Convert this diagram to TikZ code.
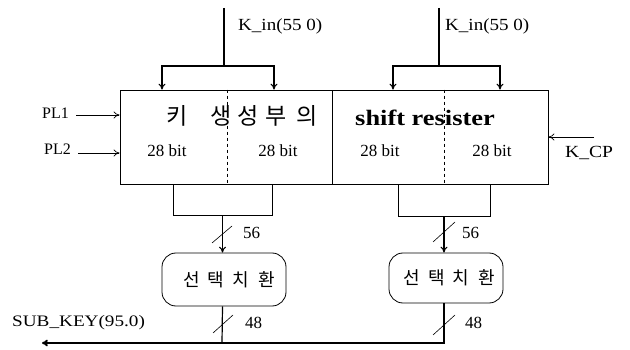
\documentclass[tikz,border=0pt]{standalone}
\usepackage{fontspec}
\setmainfont{Liberation Serif}
\newfontfamily\kr{Noto Sans CJK KR}
\usetikzlibrary{arrows.meta}
\tikzset{
  box/.style={draw, line width=0.8pt, inner sep=0pt},
  rbox/.style={draw, line width=0.8pt, rounded corners=14pt, inner sep=0pt},
  lab/.style={inner sep=0pt, font=\fontsize{17}{19}\selectfont},
  pllab/.style={inner sep=0pt, font=\fontsize{16}{18}\selectfont},
  bitlab/.style={inner sep=0pt, font=\fontsize{17}{19}\selectfont},
  wire/.style={line width=1.2pt},
  thin/.style={line width=0.7pt},
  tick/.style={line width=0.6pt},
  >={To[length=6pt,width=7pt]}
}
\begin{document}
\begin{tikzpicture}[x=1pt,y=-1pt]
\useasboundingbox (0,0) rectangle (630,350);

% main boxes
\node[box, minimum width=212pt, minimum height=94pt] (boxL) at (226,137) {};
\node[box, minimum width=216pt, minimum height=94pt] (boxR) at (440,137) {};
\draw[thin, dashed, dash pattern=on 3pt off 3pt] (boxL.north) ++(1,0) coordinate (dLt) -- (dLt |- boxL.south);
\draw[thin, dashed, dash pattern=on 3pt off 3pt] (boxR.north) ++(4,0) coordinate (dRt) -- (dRt |- boxR.south);

% titles
\node[inner sep=0pt, font=\kr\fontsize{23}{24}\selectfont] (titleKR) at (242,116)
  {키\hspace{23pt}생\hspace{6pt}성\hspace{6pt}부\hspace{10pt}의};
\node[inner sep=0pt, font=\bfseries\fontsize{22}{24}\selectfont] (titleEN) at (425,118)
  {\scalebox{1.2}[1]{shift resister}};

% 28 bit labels
\node[bitlab] (b1) at (167,151) {28 bit};
\node[bitlab] (b2) at (278,151) {28 bit};
\node[bitlab] (b3) at (380,151) {28 bit};
\node[bitlab] (b4) at (492,151) {28 bit};

% K_in inputs
\coordinate (kLtop) at (224,8);
\coordinate (kLj) at (224,66);
\coordinate (kLa) at (162,66);
\coordinate (kLb) at (274,66);
\draw[wire] (kLtop) -- (kLj);
\draw[wire,<->] (kLa |- boxL.north) -- (kLa) -- (kLb) -- (kLb |- boxL.north);
\node[lab, anchor=west] (kinL) at (238,26) {\scalebox{1.12}[1]{K\_in(55 0)}};

\coordinate (kRtop) at (439,8);
\coordinate (kRj) at (439,66);
\coordinate (kRa) at (393,66);
\coordinate (kRb) at (500,66);
\draw[wire] (kRtop) -- (kRj);
\draw[wire,<->] (kRa |- boxR.north) -- (kRa) -- (kRb) -- (kRb |- boxR.north);
\node[lab, anchor=west] (kinR) at (445,26) {\scalebox{1.12}[1]{K\_in(55 0)}};

% PL1, PL2
\node[pllab, anchor=east] (pl1) at (69,113) {PL1};
\node[pllab, anchor=east] (pl2) at (71,149) {PL2};
\coordinate (pl1s) at (76,115);
\coordinate (pl2s) at (78,153);
\draw[thin,->] (pl1s) -- (pl1s -| boxL.west);
\draw[thin,->] (pl2s) -- (pl2s -| boxL.west);

% K_CP
\coordinate (kcps) at (594,137);
\draw[thin,->] (kcps) -- (kcps -| boxR.east);
\node[lab, anchor=west] (kcp) at (565,153) {\scalebox{1.15}[1]{K\_CP}};

% small boxes
\node[box, minimum width=99pt, minimum height=31pt] (sbL) at (222.5,199.5) {};
\node[box, minimum width=92pt, minimum height=32pt] (sbR) at (444,200) {};

% rounded boxes
\node[rbox, minimum width=124pt, minimum height=53pt] (rbL) at (224,279.5) {};
\node[inner sep=0pt, font=\kr\fontsize{18}{20}\selectfont] (tL) at (229,280)
  {선\hspace{8pt}택\hspace{8pt}치\hspace{9pt}환};
\node[rbox, minimum width=114pt, minimum height=50pt] (rbR) at (446,278) {};
\node[inner sep=0pt, font=\kr\fontsize{18}{20}\selectfont] (tR) at (449.5,278)
  {선\hspace{8pt}택\hspace{8pt}치\hspace{9pt}환};

% 56 connectors
\draw[wire,->] (sbL.south) -- (sbL.south |- rbL.north);
\draw[wire,->] (sbR.south) -- (sbR.south |- rbR.north);
\draw[tick] (212,243) -- (232,226);
\draw[tick] (433,242) -- (455,222);
\node[lab, anchor=west] (n56L) at (243,233) {56};
\node[lab, anchor=west] (n56R) at (462,233) {56};

% outputs
\coordinate (jL) at (222,343);
\coordinate (out) at (42,343);
\coordinate (jR) at (444,343);
\draw[wire] (sbL.south |- rbL.south) -- (jL);
\draw[line width=2pt,->] (jL) -- (out);
\draw[wire] (sbR.south |- rbR.south) -- (jR) -- (jL);
\draw[tick] (213,333) -- (233,315);
\draw[tick] (433,335) -- (455,315);
\node[lab, anchor=west] (n48L) at (245,323) {48};
\node[lab, anchor=west] (n48R) at (465,323) {48};
\node[pllab, anchor=west] (subkey) at (12,323) {\scalebox{1.2}[1]{SUB\_KEY(95.0)}};

\end{tikzpicture}
\end{document}
